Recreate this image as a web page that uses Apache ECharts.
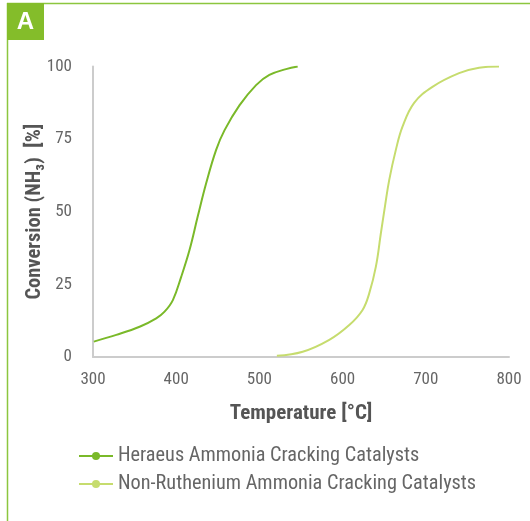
<!DOCTYPE html>
<html><head><meta charset="utf-8">
<script src="https://cdn.jsdelivr.net/npm/echarts@6/dist/echarts.min.js"></script>
<style>html,body{margin:0;padding:0;background:#fff}#c{width:530px;height:521px}</style>
</head><body><div id="c"></div>
<script>
const seriesNames = ['Heraeus Ammonia Cracking Catalysts', 'Non-Ruthenium Ammonia Cracking Catalysts'];
const heraeus = [[301,5.3],[328,7.6],[356,10.4],[376,13.3],[386,15.6],[396,19.6],[406,27.6],[416,36.8],[426,48.5],[436,59.8],[448,71.3],[458,78],[476,86.6],[496,93.6],[512,97.1],[532,99.1],[546,100]];
const nonRu = [[521,0.4],[552,1.8],[584,5.9],[608,11],[624,16.2],[632,21.9],[640,31.1],[646,42.6],[651,52],[656,60.9],[664,71.3],[672,79.3],[686,87.5],[708,93],[740,97.7],[764,99.6],[788,100]];
const xTicks = [300,400,500,600,700,800];
const yTicks = [0,25,50,75,100];
const colors = ['#7ab929','#c6dc6e'];
const font = '"Liberation Sans Narrow","Roboto Condensed",Roboto,sans-serif';

const chart = echarts.init(document.getElementById('c'));
chart.setOption({
  animation:false,
  grid:{left:93,right:21,top:66.5,bottom:164},
  xAxis:{type:'value',min:xTicks[0],max:xTicks[xTicks.length-1],interval:100,
    axisLine:{lineStyle:{color:'#cccccc',width:2}},axisTick:{show:false},splitLine:{show:false},
    axisLabel:{color:'#666',fontSize:17,fontFamily:font,margin:14},
    name:'Temperature [°C]',nameLocation:'middle',nameGap:46,nameMoveOverlap:false,
    nameTextStyle:{color:'#555',fontSize:21,fontWeight:'bold',fontFamily:font}},
  yAxis:{type:'value',min:yTicks[0],max:yTicks[yTicks.length-1],interval:25,
    axisLine:{show:true,lineStyle:{color:'#cccccc',width:2}},axisTick:{show:false},splitLine:{show:false},
    axisLabel:{color:'#666',fontSize:17,fontFamily:font,margin:21},
    name:'Conversion (NH₃)  [%]',nameLocation:'middle',nameGap:48,nameMoveOverlap:false,
    nameTextStyle:{color:'#555',fontSize:20.5,fontWeight:'bold',fontFamily:font}},
  legend:{orient:'vertical',left:73,top:441,itemWidth:34,itemHeight:10,itemGap:8,
    textStyle:{color:'#666',fontSize:20.3,fontFamily:font},
    data:seriesNames},
  series:[
    {name:seriesNames[0],type:'line',data:heraeus,smooth:0.4,showSymbol:false,symbol:'circle',symbolSize:8,
      lineStyle:{color:colors[0],width:2},itemStyle:{color:colors[0]}},
    {name:seriesNames[1],type:'line',data:nonRu,smooth:0.4,showSymbol:false,symbol:'circle',symbolSize:8,
      lineStyle:{color:colors[1],width:2},itemStyle:{color:colors[1]}}
  ],
  graphic:[
    {type:'line',shape:{x1:7,y1:3.5,x2:530,y2:3.5},style:{stroke:'#8cc63f',lineWidth:1.5}},
    {type:'line',shape:{x1:7.5,y1:3,x2:7.5,y2:521},style:{stroke:'#8cc63f',lineWidth:1.5}},
    {type:'rect',shape:{x:7,y:3,width:37,height:37},style:{fill:'#84bd2a'}},
    {type:'text',x:25.5,y:22,style:{text:'A',fill:'#fff',font:'bold 24px "Liberation Sans",sans-serif',align:'center',verticalAlign:'middle'}}
  ]
});
</script></body></html>
